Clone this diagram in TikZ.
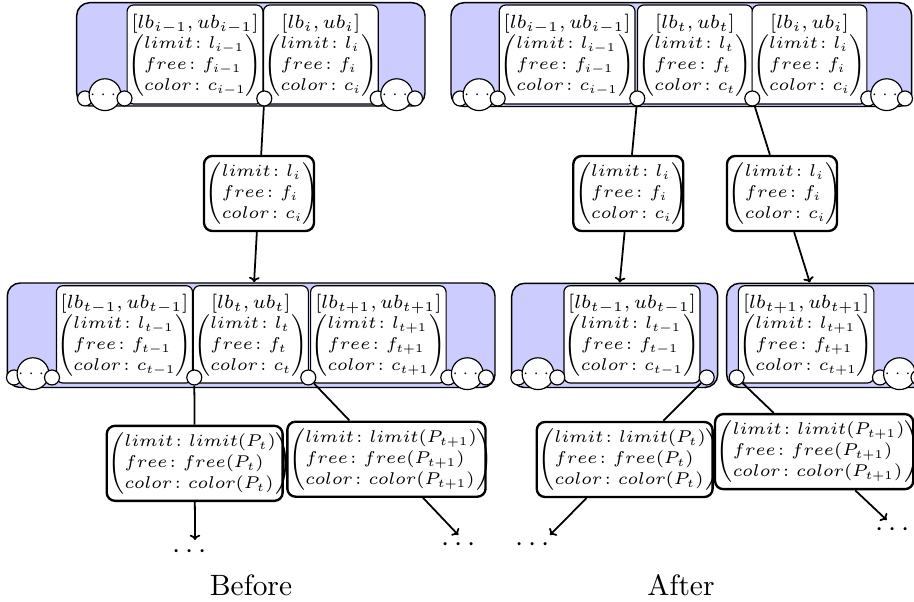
\RequirePackage{fix-cm}
\documentclass[tikz,border=0pt]{standalone}
\usepackage{amsmath}
\usepackage{graphicx}
\usetikzlibrary{arrows.meta}
\newcommand{\attrbox}[3]{\scalebox{0.95}{\fontsize{6.1}{7.5}\selectfont$\left(\begin{array}{@{}l@{}}limit\colon #1\\free\colon #2\\color\colon #3\end{array}\right)$}}
\newcommand{\cardtext}[4]{\begin{tabular}{@{}c@{}}\scalebox{0.926}{$[#1]$}\\[-0.5pt]\attrbox{#2}{#3}{#4}\end{tabular}}
\tikzset{
  group/.style={draw, line width=0.5pt, fill=blue!20, rounded corners=4.4pt, inner sep=0pt},
  card/.style={draw, line width=0.4pt, fill=white, rounded corners=2.2pt, inner sep=0pt, font=\fontsize{7}{8}\selectfont},
  attr/.style={draw, line width=0.8pt, fill=white, rounded corners=2.8pt, inner xsep=0.3pt, inner ysep=0pt, align=left, minimum height=25.5pt},
  slot/.style={circle, draw, line width=0.4pt, fill=white, minimum size=5.1pt, inner sep=0pt},
  more/.style={circle, draw, line width=0.4pt, fill=white, minimum size=7.7pt, inner sep=0pt, font=\tiny},
  link/.style={line width=0.6pt},
  flow/.style={link, -{To[length=1.8pt,width=3.6pt]}},
  ellip/.style={inner sep=0pt},
  caption/.style={font=\normalsize},
  sz/.style 2 args={minimum width=#1*0.34pt, minimum height=#2*0.34pt},
}
\begin{document}
\begin{tikzpicture}[x=0.34pt, y=-0.34pt]
\useasboundingbox (0,0) rectangle (914,602);
\clip (0,0) rectangle (914,602);

% ---------- Before: upper list ----------
\node[group, sz={348.3}{103.3}] (tbG) at (250.85,54.35) {};
\node[card, sz={125.4}{99}] (tbA) at (195,54.5) {\cardtext{lb_{i-1},ub_{i-1}}{l_{i-1}}{f_{i-1}}{c_{i-1}}};
\node[card, sz={101.7}{99}] (tbB) at (320.85,54.5) {\cardtext{lb_i,ub_i}{l_i}{f_i}{c_i}};
\node[slot] (tbL1) at (85,98.5) {};
\node[more] (tbL2) at (105,94.7) {$\cdots$};
\node[slot] (tbL3) at (124.5,98.5) {};
\node[slot] (tbM) at (264.3,98.5) {};
\node[slot] (tbR1) at (377.7,98.5) {};
\node[more] (tbR2) at (396.7,94.7) {$\cdots$};
\node[slot] (tbR3) at (415,98.5) {};

% ---------- After: upper list ----------
\node[group, sz={460.7}{103.8}] (taG) at (681.35,54.6) {};
\node[card, sz={125.7}{99}] (taA) at (567.15,54.5) {\cardtext{lb_{i-1},ub_{i-1}}{l_{i-1}}{f_{i-1}}{c_{i-1}}};
\node[card, sz={102}{99}] (taB) at (695,54.5) {\cardtext{lb_t,ub_t}{l_t}{f_t}{c_t}};
\node[card, sz={101}{99}] (taC) at (809.5,54.5) {\cardtext{lb_i,ub_i}{l_i}{f_i}{c_i}};
\node[slot] (taL1) at (460,98.5) {};
\node[more] (taL2) at (479,94.7) {$\cdots$};
\node[slot] (taL3) at (497.7,98.5) {};
\node[slot] (taM1) at (637.3,98.5) {};
\node[slot] (taM2) at (752.3,98.5) {};
\node[slot] (taR1) at (868.3,98.5) {};
\node[more] (taR2) at (886.7,94.7) {$\cdots$};
\node[slot] (taR3) at (905,98.5) {};

% ---------- Before: lower list ----------
\node[group, sz={487.7}{104.5}] (bbG) at (251.15,335.25) {};
\node[card, sz={127.6}{97.3}] (bbA) at (124.5,334.35) {\cardtext{lb_{t-1},ub_{t-1}}{l_{t-1}}{f_{t-1}}{c_{t-1}}};
\node[card, sz={101.7}{97.3}] (bbB) at (250.85,334.35) {\cardtext{lb_t,ub_t}{l_t}{f_t}{c_t}};
\node[card, sz={126.7}{97.3}] (bbC) at (378.35,334.35) {\cardtext{lb_{t+1},ub_{t+1}}{l_{t+1}}{f_{t+1}}{c_{t+1}}};
\node[slot] (bbL1) at (14,377.5) {};
\node[more] (bbL2) at (33,373.7) {$\cdots$};
\node[slot] (bbL3) at (52,377.5) {};
\node[slot] (bbM1) at (194.3,377.5) {};
\node[slot] (bbM2) at (308.3,377.5) {};
\node[slot] (bbR1) at (448.3,377.5) {};
\node[more] (bbR2) at (467.3,373.7) {$\cdots$};
\node[slot] (bbR3) at (486,377.5) {};

% ---------- After: lower lists ----------
\node[group, sz={206}{104.2}] (balG) at (614.7,335.4) {};
\node[card, sz={132}{97.3}] (balA) at (632,334.35) {\cardtext{lb_{t-1},ub_{t-1}}{l_{t-1}}{f_{t-1}}{c_{t-1}}};
\node[slot] (balL1) at (518.3,377.5) {};
\node[more] (balL2) at (538,373.7) {$\cdots$};
\node[slot] (balL3) at (557.3,377.5) {};
\node[slot] (balR) at (706.7,377.5) {};

\node[group, sz={199.3}{104.2}] (barG) at (826.35,335.4) {};
\node[card, sz={127.7}{97.3}] (barA) at (806.15,334.35) {\cardtext{lb_{t+1},ub_{t+1}}{l_{t+1}}{f_{t+1}}{c_{t+1}}};
\node[slot] (barL) at (736.7,377.5) {};
\node[slot] (barR1) at (880,377.5) {};
\node[more] (barR2) at (899.5,373.7) {$\cdots$};
\node[slot] (barR3) at (918.5,377.5) {};

% ---------- detached attribute records ----------
\node[attr, text width=36.8pt] (bm) at (259,193.5) {\attrbox{l_i}{f_i}{c_i}};
\node[attr, text width=36.8pt] (amL) at (628.3,193.5) {\attrbox{l_i}{f_i}{c_i}};
\node[attr, text width=36.8pt] (amR) at (782,193.5) {\attrbox{l_i}{f_i}{c_i}};

\node[attr, text width=59.2pt] (bPt) at (194.7,463.35) {\attrbox{limit(P_t)}{free(P_t)}{color(P_t)}};
\node[attr, text width=66.8pt] (bPt1) at (386.45,459.2) {\attrbox{limit(P_{t+1})}{free(P_{t+1})}{color(P_{t+1})}};
\node[attr, text width=59.2pt] (aPt) at (624.7,459.5) {\attrbox{limit(P_t)}{free(P_t)}{color(P_t)}};
\node[attr, text width=66.8pt] (aPt1) at (814.15,451.65) {\attrbox{limit(P_{t+1})}{free(P_{t+1})}{color(P_{t+1})}};

% ---------- continuation marks ----------
\coordinate (bEnd1) at (195,540);
\coordinate (bEnd2) at (458.3,535);
\coordinate (aEnd1) at (550,535);
\coordinate (aEnd2) at (886.7,520);
\node[ellip] (bDots1) at (192,552) {$\cdots$};
\node[ellip] (bDots2) at (461,545) {$\cdots$};
\node[ellip] (aDots1) at (535,545) {$\cdots$};
\node[ellip] (aDots2) at (895,530) {$\cdots$};

% ---------- connectors ----------
\draw[link] (tbM) -- (bm);
\draw[flow] (bm) -- (bbG);
\draw[link] (bbM1) -- (bPt);
\draw[link] (bbM2) -- (bPt1);
\draw[flow] (bPt) -- (bEnd1);
\draw[flow] (bPt1) -- (bEnd2);

\draw[link] (taM1) -- (amL);
\draw[link] (taM2) -- (amR);
\draw[flow] (amL) -- (balG);
\draw[flow] (amR) -- (barG);
\draw[link] (balR) -- (aPt);
\draw[link] (barL) -- (aPt1);
\draw[flow] (aPt) -- (aEnd1);
\draw[flow] (aPt1) -- (aEnd2);

% ---------- captions ----------
\node[caption] (capB) at (251,585) {Before};
\node[caption] (capA) at (681,585) {After};
\end{tikzpicture}
\end{document}
